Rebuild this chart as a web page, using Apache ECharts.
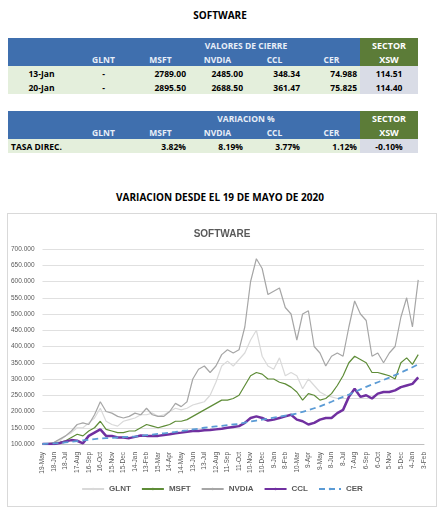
<!DOCTYPE html>
<html>
<head>
<meta charset="utf-8">
<script src="https://cdn.jsdelivr.net/npm/echarts@6/dist/echarts.min.js"></script>
<style>
body{margin:0;width:440px;height:511px;background:#fff;font-family:"Open Sans","Liberation Sans",sans-serif;position:relative;overflow:hidden}
.t{position:absolute;left:0;width:440px;text-align:center;font-weight:bold;font-size:10px;color:#000}
table{position:absolute;left:8px;border-collapse:collapse;font-size:8.5px;font-weight:bold;table-layout:fixed}
td{height:14px;padding:0 3px;white-space:nowrap;overflow:hidden}
.h td{background:#3f6fae;color:#e8eef8}
.h td.g{background:#5c7c38;color:#fff;text-align:center;font-size:9px}
.d td{background:#e4efdc;text-align:right}
.d td.x{background:#d9dce6;text-align:center}
#chart{position:absolute;left:7px;top:213px;width:428px;height:292px;border:1px solid #d9d9d9}
</style>
</head>
<body>
<div class="t" style="top:8px">SOFTWARE</div>
<table id="t1" style="top:38px"></table>
<table id="t2" style="top:111px"></table>
<div class="t" style="top:190px">VARIACION DESDE EL 19 DE MAYO DE 2020</div>
<div id="chart"></div>
<script>
var colNames = ['GLNT', 'MSFT', 'NVDIA', 'CCL', 'CER'];
var closeDates = ['13-Jan', '20-Jan'];
var closeRows = [
	['-', '2789.00', '2485.00', '348.34', '74.988', '114.51'],
	['-', '2895.50', '2688.50', '361.47', '75.825', '114.40']
];
var varRow = ['', '3.82%', '8.19%', '3.77%', '1.12%', '-0.10%'];

// serie cada 15 días desde 19-May-2020
var glnt = [100,101,103,110,125,135,150,150,165,180,210,170,160,155,170,175,180,190,190,195,185,190,200,210,205,210,220,225,230,250,290,340,355,340,360,380,420,450,370,340,330,365,310,320,310,270,300,280,260,250,245,240,240,240,240,240,240,240,240,240,240,240,null,null,null,null,null];
var msft = [100,101,102,105,110,120,130,125,140,150,170,145,140,135,135,140,140,150,160,155,150,155,160,170,170,175,185,195,205,215,225,235,235,240,250,280,310,320,315,300,300,290,285,275,260,235,255,250,235,240,255,280,310,350,370,360,350,320,320,315,310,300,350,365,345,375,null];
var nvdia = [100,102,105,115,125,140,160,165,160,190,230,200,195,185,180,185,195,190,210,190,185,185,200,225,215,230,300,330,340,320,340,375,390,380,390,460,600,670,640,560,570,580,520,500,420,500,510,400,380,340,370,380,370,460,540,500,480,370,380,350,380,400,490,550,460,605,null];
var ccl = [100,100,100,103,108,112,110,102,125,135,145,125,125,120,120,118,122,126,125,125,125,128,130,133,135,138,140,140,142,143,145,147,150,152,155,165,180,185,180,172,175,180,185,190,175,170,160,165,175,180,180,195,205,245,270,245,250,240,255,260,260,265,275,280,285,305,null];
var cer = [100,101,102,103,105,107,109,111,113,115,117,118,119,120,121,122,123,125,127,129,131,133,135,137,140,142,145,147,150,152,154,156,158,160,162,166,169,172,175,178,181,184,187,190,194,199,204,210,216,223,230,238,245,252,260,268,276,283,290,297,304,312,320,328,336,345,null];

var months = ['Jan','Feb','Mar','Apr','May','Jun','Jul','Aug','Sep','Oct','Nov','Dec'];
var dates = [];
for (var i = 0; i < nvdia.length; i++) {
	var d = new Date(Date.UTC(2020, 4, 19 + i * 15));
	dates.push(d.getUTCDate() + '-' + months[d.getUTCMonth()]);
}

function hdr(title) {
	var s = '<colgroup><col style="width:67px"><col style="width:57px"><col style="width:57px"><col style="width:57px"><col style="width:57px"><col style="width:57px"><col style="width:58px"></colgroup>';
	s += '<tr class="h"><td></td><td colspan="5" style="text-align:center;padding-left:60px">' + title + '</td><td class="g">SECTOR</td></tr>';
	s += '<tr class="h"><td></td>';
	colNames.forEach(function(c) { s += '<td style="text-align:center">' + c + '</td>'; });
	s += '<td class="g">XSW</td></tr>';
	return s;
}
var s1 = hdr('VALORES DE CIERRE');
closeRows.forEach(function(r, k) {
	s1 += '<tr class="d"><td style="text-align:center">' + closeDates[k] + '</td>';
	r.forEach(function(v, j) {
		s1 += '<td' + (j == 5 ? ' class="x"' : (j == 0 ? ' style="text-align:center"' : '')) + '>' + v + '</td>';
	});
	s1 += '</tr>';
});
document.getElementById('t1').innerHTML = s1;
var s2 = hdr('VARIACION %') + '<tr class="d"><td style="text-align:left">TASA DIREC.</td>';
varRow.forEach(function(v, j) { s2 += '<td' + (j == 5 ? ' class="x"' : '') + '>' + v + '</td>'; });
document.getElementById('t2').innerHTML = s2 + '</tr>';

var myChart = echarts.init(document.getElementById('chart'));
function line(name, data, color, width, type) {
	return { name: name, type: 'line', data: data, symbol: 'none', connectNulls: false,
		lineStyle: { color: color, width: width, type: type || 'solid' }, itemStyle: { color: color } };
}
myChart.setOption({
	animation: false,
	title: { text: 'SOFTWARE', left: 'center', top: 10, textStyle: { fontSize: 10, fontWeight: 'bold', color: '#595959' } },
	grid: { left: 34, right: 12, top: 35, bottom: 62 },
	legend: { bottom: 8, itemWidth: 22, itemHeight: 3, itemGap: 10, textStyle: { fontSize: 8, color: '#595959', fontWeight: 'bold' },
		data: ['GLNT', 'MSFT', 'NVDIA', 'CCL', 'CER'] },
	xAxis: { type: 'category', data: dates, boundaryGap: false,
		axisLine: { lineStyle: { color: '#bfbfbf' } }, axisTick: { show: false },
		axisLabel: { rotate: 90, interval: 1, fontSize: 6.5, color: '#595959' } },
	yAxis: { type: 'value', min: 100, max: 700, interval: 50,
		axisLabel: { fontSize: 6.5, color: '#595959', formatter: function(v) { return v + '.000'; } },
		splitLine: { lineStyle: { color: '#e0e0e0' } } },
	series: [
		line('GLNT', glnt, '#d9d9d9', 1.2),
		line('MSFT', msft, '#5e8c37', 1.2),
		line('NVDIA', nvdia, '#a6a6a6', 1.2),
		line('CCL', ccl, '#7030a0', 2.5),
		line('CER', cer, '#5b9bd5', 1.8, [6, 4])
	]
});
</script>
</body>
</html>
